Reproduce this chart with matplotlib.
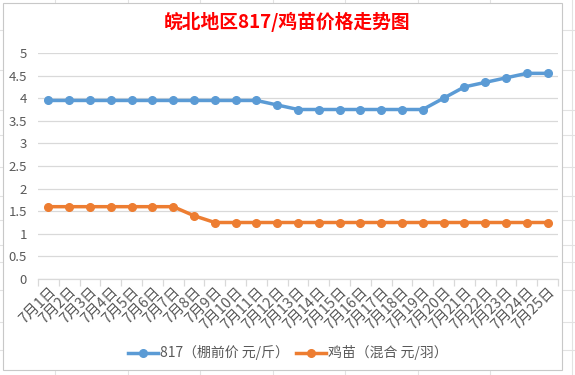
import matplotlib.pyplot as plt
from matplotlib.lines import Line2D
from matplotlib.patches import Rectangle
import numpy as np

plt.rcParams['font.family'] = ['Noto Sans CJK SC', 'DejaVu Sans']

# data
days = [f"7月{d}日" for d in range(1, 26)]
price_817 = [3.95, 3.95, 3.95, 3.95, 3.95, 3.95, 3.95, 3.95, 3.95, 3.95, 3.95,
             3.85, 3.75, 3.75, 3.75, 3.75, 3.75, 3.75, 3.75,
             4.0, 4.25, 4.35, 4.45, 4.55, 4.55]
price_chick = [1.6, 1.6, 1.6, 1.6, 1.6, 1.6, 1.6, 1.4,
               1.25, 1.25, 1.25, 1.25, 1.25, 1.25, 1.25, 1.25, 1.25,
               1.25, 1.25, 1.25, 1.25, 1.25, 1.25, 1.25, 1.25]
y_ticks = [0, 0.5, 1, 1.5, 2, 2.5, 3, 3.5, 4, 4.5, 5]

blue = "#5B9BD5"
orange = "#ED7D31"
grid_c = "#D9D9D9"
text_c = "#595959"

fig = plt.figure(figsize=(5.75, 3.75), dpi=100)

# spreadsheet cell lines behind the chart
for x in [55, 128, 200, 273, 345, 418, 490, 572]:
    fig.add_artist(Line2D([x / 575, x / 575], [0, 1], color="#E2E2E2", lw=0.8, zorder=0))
for y in [30, 70, 110, 135, 167, 196, 220, 245, 262, 290, 322, 350]:
    fig.add_artist(Line2D([0, 1], [1 - y / 375, 1 - y / 375], color="#E2E2E2", lw=0.8, zorder=0))
fig.add_artist(Rectangle((3 / 575, 1 - 370 / 375), 559 / 575, 367 / 375,
                         facecolor="white", edgecolor="#C8C8C8", lw=0.8, zorder=1))

ax = fig.add_axes([38 / 575, 1 - 279 / 375, 520 / 575, 226 / 375])
ax.set_zorder(2)
ax.patch.set_alpha(0)

x = np.arange(len(days))
ax.plot(x, price_817, color=blue, lw=2.5, marker="o", ms=5.5,
        label="817（棚前价 元/斤）", zorder=3)
ax.plot(x, price_chick, color=orange, lw=2.5, marker="o", ms=5.5,
        label="鸡苗（混合 元/羽）", zorder=3)

ax.set_xlim(-0.5, len(days) - 0.5)
ax.set_ylim(0, 5)
ax.set_yticks(y_ticks)
ax.set_yticklabels([f"{v:g}" for v in y_ticks], color=text_c, fontsize=9.5)
ax.yaxis.grid(True, color=grid_c, lw=0.9)
ax.set_axisbelow(True)
ax.tick_params(axis="y", length=0, pad=8)

ax.set_xticks(x)
ax.set_xticklabels(days, rotation=45, ha="right", rotation_mode="anchor",
                   color=text_c, fontsize=10.5)
ax.set_xticks(np.arange(len(days) + 1) - 0.5, minor=True)
ax.tick_params(axis="x", which="major", length=0, pad=4)
ax.tick_params(axis="x", which="minor", length=5, color=grid_c, width=0.9)

for s in ["top", "right", "left"]:
    ax.spines[s].set_visible(False)
ax.spines["bottom"].set_color(grid_c)
ax.spines["bottom"].set_linewidth(0.9)

fig.text(0.5, 1 - 22 / 375, "皖北地区817/鸡苗价格走势图", color="#FF0000",
         fontsize=13.5, fontweight="bold", ha="center", va="center", zorder=3)

leg = fig.legend(loc="center", bbox_to_anchor=(0.5, 1 - 353 / 375), ncol=2,
                 frameon=False, fontsize=10, handlelength=2.2, columnspacing=0.5,
                 handletextpad=0.1)
for t in leg.get_texts():
    t.set_color(text_c)
leg.set_zorder(3)

fig.savefig("out.png", dpi=100)
